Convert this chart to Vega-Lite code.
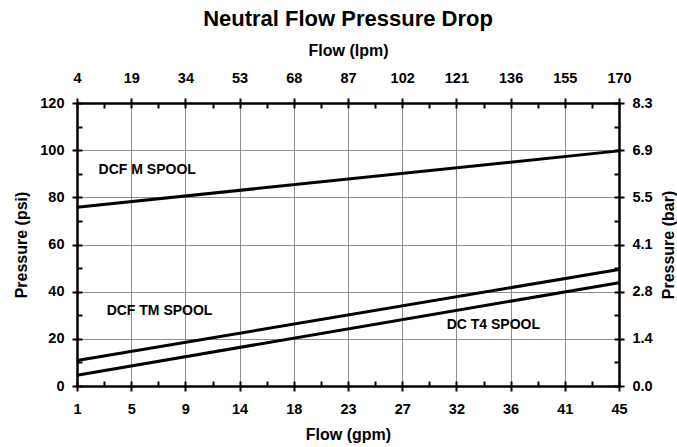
{
  "$schema": "https://vega.github.io/schema/vega-lite/v6.json",
  "autosize": "none",
  "width": 542,
  "height": 283,
  "padding": {"left": 77, "top": 103, "right": 58, "bottom": 61},
  "config": {
    "font": "Liberation Sans",
    "view": {"stroke": null},
    "axis": {"labelFont": "Liberation Sans", "titleFont": "Liberation Sans", "labelFontSize": 14.5, "labelFontWeight": "bold", "labelColor": "#000", "titleColor": "#000", "titleFontSize": 16, "titleFontWeight": "bold", "domainColor": "#000", "tickColor": "#000", "tickWidth": 2, "domainWidth": 2.5, "gridColor": "#8c8c8c", "gridWidth": 1, "gridOpacity": 1, "labelOverlap": false, "labelFlush": false}
  },
  "title": {"text": "Neutral Flow Pressure Drop", "fontSize": 22, "fontWeight": "bold", "font": "Liberation Sans", "color": "#000", "offset": 11, "anchor": "middle"},
  "datasets": {
    "lines": [
      {"series": "DCF M SPOOL", "gpm": 1, "psi": 75.8},
      {"series": "DCF M SPOOL", "gpm": 45, "psi": 99.7},
      {"series": "DCF TM SPOOL", "gpm": 1, "psi": 10.8},
      {"series": "DCF TM SPOOL", "gpm": 45, "psi": 49.4},
      {"series": "DC T4 SPOOL", "gpm": 1, "psi": 4.6},
      {"series": "DC T4 SPOOL", "gpm": 45, "psi": 43.8}
    ],
    "labels": [
      {"label": "DCF M SPOOL", "gpm": 6.7, "psi": 91.6},
      {"label": "DCF TM SPOOL", "gpm": 7.7, "psi": 31.8},
      {"label": "DC T4 SPOOL", "gpm": 34.8, "psi": 25.9}
    ]
  },
  "layer": [
    {
      "data": {"name": "lines"},
      "mark": {"type": "line", "color": "#000", "strokeWidth": 3, "strokeCap": "butt"},
      "encoding": {
        "x": {"field": "gpm", "type": "quantitative", "scale": {"domain": [1, 45], "nice": false, "zero": false},
          "axis": {"orient": "bottom", "title": "Flow (gpm)", "values": [1, 5.4, 9.8, 14.2, 18.6, 23, 27.4, 31.8, 36.2, 40.6, 45], "labelExpr": "['1','5','9','14','18','23','27','32','36','41','45'][round((datum.value-1)/4.4)]", "tickSize": 5, "labelPadding": 11, "titlePadding": 11, "grid": true}},
        "y": {"field": "psi", "type": "quantitative", "scale": {"domain": [0, 120], "nice": false},
          "axis": {"orient": "left", "title": "Pressure (psi)", "values": [0, 20, 40, 60, 80, 100, 120], "tickSize": 5, "labelPadding": 8, "titlePadding": 10, "grid": true}},
        "detail": {"field": "series"}
      }
    },
    {
      "data": {"name": "labels"},
      "mark": {"type": "text", "fontSize": 14, "fontWeight": "bold", "font": "Liberation Sans", "color": "#000", "align": "center", "baseline": "middle"},
      "encoding": {
        "x": {"field": "gpm", "type": "quantitative",
          "axis": {"orient": "top", "title": "Flow (lpm)", "values": [1, 5.4, 9.8, 14.2, 18.6, 23, 27.4, 31.8, 36.2, 40.6, 45], "labelExpr": "['4','19','34','53','68','87','102','121','136','155','170'][round((datum.value-1)/4.4)]", "tickSize": 5, "labelPadding": 13, "titlePadding": 12, "grid": false}},
        "y": {"field": "psi", "type": "quantitative",
          "axis": {"orient": "right", "title": "Pressure (bar)", "titleAngle": 270, "titleBaseline": "top", "values": [0, 20, 40, 60, 80, 100, 120], "labelExpr": "['0.0','1.4','2.8','4.1','5.5','6.9','8.3'][round(datum.value/20)]", "tickSize": 5, "labelPadding": 8, "titlePadding": 8, "grid": false}},
        "text": {"field": "label"}
      }
    },
    {
      "data": {"name": "lines"},
      "mark": {"type": "line", "strokeOpacity": 0},
      "encoding": {
        "x": {"field": "gpm", "type": "quantitative",
          "axis": {"orient": "bottom", "title": null, "labels": false, "domain": false, "grid": false, "tickSize": -5, "values": [1, 3.2, 5.4, 7.6, 9.8, 12, 14.2, 16.4, 18.6, 20.8, 23, 25.2, 27.4, 29.6, 31.8, 34, 36.2, 38.4, 40.6, 42.8, 45]}},
        "y": {"field": "psi", "type": "quantitative",
          "axis": {"orient": "left", "title": null, "labels": false, "domain": false, "grid": false, "tickSize": -5, "values": [0, 10, 20, 30, 40, 50, 60, 70, 80, 90, 100, 110, 120]}},
        "detail": {"field": "series"}
      }
    },
    {
      "data": {"name": "lines"},
      "mark": {"type": "line", "strokeOpacity": 0},
      "encoding": {
        "x": {"field": "gpm", "type": "quantitative",
          "axis": {"orient": "top", "title": null, "labels": false, "domain": false, "grid": false, "tickSize": -5, "values": [1, 3.2, 5.4, 7.6, 9.8, 12, 14.2, 16.4, 18.6, 20.8, 23, 25.2, 27.4, 29.6, 31.8, 34, 36.2, 38.4, 40.6, 42.8, 45]}},
        "y": {"field": "psi", "type": "quantitative",
          "axis": {"orient": "right", "title": null, "labels": false, "domain": false, "grid": false, "tickSize": -5, "values": [0, 10, 20, 30, 40, 50, 60, 70, 80, 90, 100, 110, 120]}},
        "detail": {"field": "series"}
      }
    }
  ],
  "resolve": {"axis": {"x": "independent", "y": "independent"}}
}
